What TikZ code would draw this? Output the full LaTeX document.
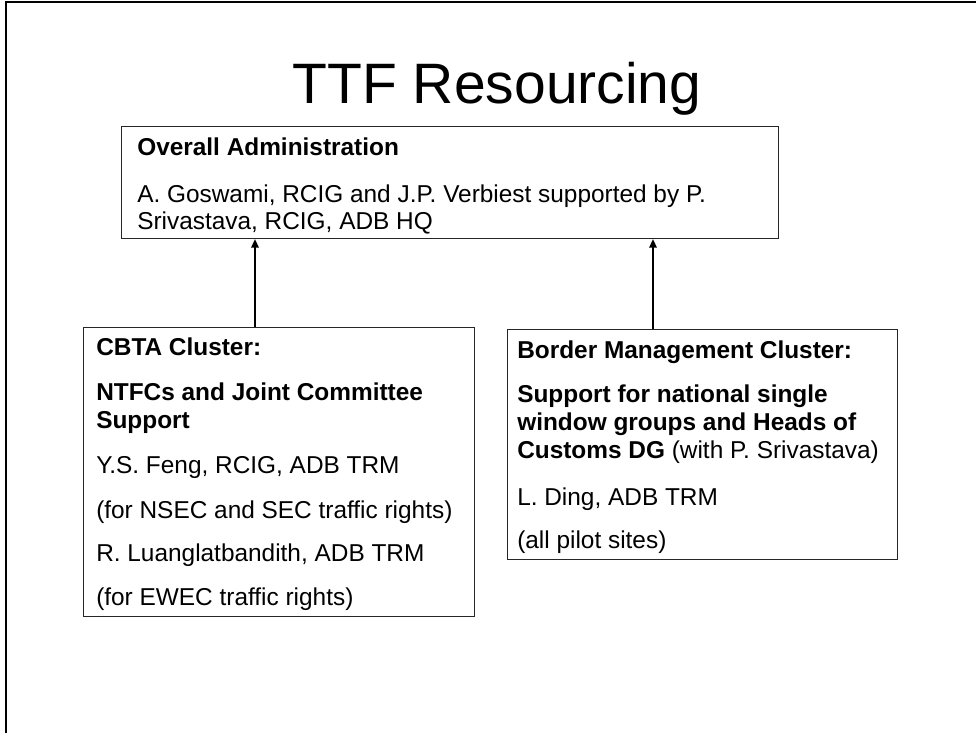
\documentclass[tikz,border=0pt]{standalone}
\usepackage{fontspec}
\setmainfont{Liberation Sans}
\usetikzlibrary{arrows.meta}
\begin{document}
\begin{tikzpicture}[x=0.75pt,y=-0.75pt,
  box/.style={draw=black!85,line width=0.75pt,rectangle,inner sep=0pt,anchor=north west},
  txt/.style={anchor=base west,inner sep=0pt,font=\fontsize{18.3pt}{21pt}\selectfont},
  btxt/.style={txt,font=\fontsize{18.3pt}{21pt}\selectfont\bfseries},
  arr/.style={line width=1.5pt,-{Triangle[length=6.5pt,width=5.5pt]}},
  frame/.style={line width=1.6pt}]
\useasboundingbox (0,0) rectangle (976,733);
% slide frame
\draw[frame] (976,2) -- (6,2) -- (6,733);
% title
\node[anchor=base,inner sep=0pt,font=\fontsize{42.75pt}{48pt}\selectfont] (title) at (497,103) {TTF Resourcing};
% boxes
\node[box,minimum width=492.75pt,minimum height=84pt] (admin) at (121,126) {};
\node[box,minimum width=293.25pt,minimum height=216.75pt] (cbta) at (83,327) {};
\node[box,minimum width=292.5pt,minimum height=172.5pt] (border) at (507,329) {};
% admin text
\node[btxt] (a1) at (137,155) {Overall Administration};
\node[txt] (a2) at (137,202) {A. Goswami, RCIG and J.P. Verbiest supported by P.};
\node[txt] (a3) at (137,229) {Srivastava, RCIG, ADB HQ};
% cbta text
\node[btxt] (c1) at (96,355) {CBTA Cluster:};
\node[btxt] (c2) at (96,400) {NTFCs and Joint Committee};
\node[btxt] (c3) at (96,428) {Support};
\node[txt] (c4) at (96,473) {Y.S. Feng, RCIG, ADB TRM};
\node[txt] (c5) at (96,518) {(for NSEC and SEC traffic rights)};
\node[txt] (c6) at (96,561) {R. Luanglatbandith, ADB TRM};
\node[txt] (c7) at (96,605) {(for EWEC traffic rights)};
% border text
\node[btxt] (b1) at (517,358) {Border Management Cluster:};
\node[btxt] (b2) at (517,402) {Support for national single};
\node[btxt] (b3) at (517,430) {window groups and Heads of};
\node[txt] (b4) at (517,458) {\textbf{Customs DG} (with P. Srivastava)};
\node[txt] (b5) at (517,505) {L. Ding, ADB TRM};
\node[txt] (b6) at (517,548) {(all pilot sites)};
% connectors
\coordinate (la) at (255,0);
\coordinate (ra) at (653,0);
\draw[arr] (la |- cbta.north) -- (la |- admin.south);
\draw[arr] (ra |- border.north) -- (ra |- admin.south);
\end{tikzpicture}
\end{document}
